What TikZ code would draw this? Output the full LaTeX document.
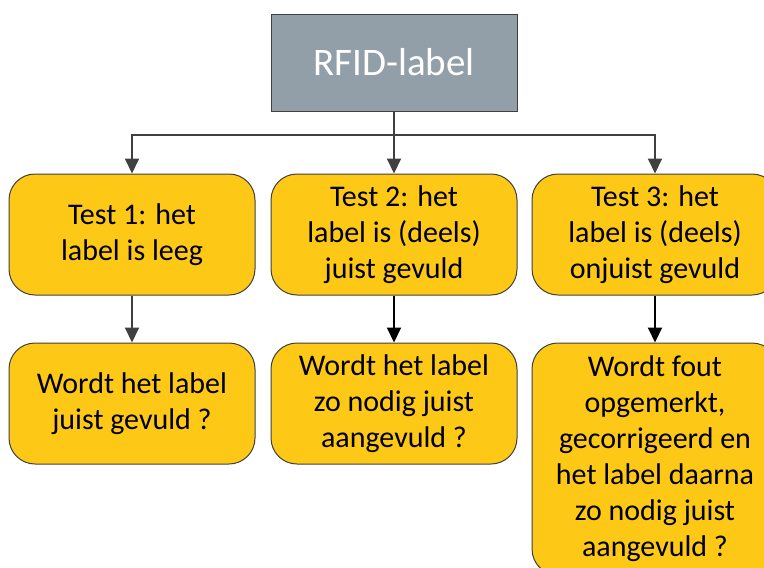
\documentclass[tikz,border=0pt]{standalone}
\usepackage{fontspec}
\setmainfont{Carlito}
\usepackage{tikz}
\usetikzlibrary{
    arrows.meta,
    positioning,
    calc
}
\definecolor{rfGray}{HTML}{939FA8}
\definecolor{rfGold}{HTML}{FDC916}
\definecolor{rfLine}{HTML}{404040}
\tikzset{
    rfTop/.style={
        draw=rfLine,
        fill=rfGray,
        text=white,
        minimum width=246pt,
        minimum height=97pt,
        line width=1pt,
        font=\fontsize{39}{47}\selectfont
    },
    rfTest/.style={
        draw=rfLine,
        fill=rfGold,
        rounded corners=26pt,
        minimum width=246pt,
        minimum height=121pt,
        align=center,
        line width=1pt,
        inner sep=2pt,
        font=\fontsize{30}{36}\selectfont
    },
    rfArrow/.style={-{Triangle[length=15pt,width=14pt]},line width=2pt,draw=rfLine},
    rfBlack/.style={-{Triangle[length=15pt,width=14pt]},line width=2pt,draw=black}
}
\begin{document}
\begin{tikzpicture}[x=1pt,y=1pt]
        \clip (0,0) rectangle (764,-568);
        % top
        \node[rfTop] (rfid) at (394,-62.5) {RFID-label};

        % tests
        \node[rfTest,below=62pt of rfid] (test2) {Test 2: het\\label is (deels)\\juist gevuld};
        \node[rfTest,left=15pt of test2] (test1) {Test 1: het\\label is leeg};
        \node[rfTest,right=14pt of test2] (test3) {Test 3: het\\label is (deels)\\onjuist gevuld};

        % checks
        \node[rfTest,below=47pt of test1] (check1) {Wordt het label\\juist gevuld ?};
        \node[rfTest,below=47pt of test2] (check2) {Wordt het label\\zo nodig juist\\aangevuld ?};
        \node[rfTest,below=47pt of test3,minimum height=232pt] (check3)
            {Wordt fout\\opgemerkt,\\gecorrigeerd en\\het label daarna\\zo nodig juist\\aangevuld ?};

        % arrows
        \coordinate (split) at ($(rfid.south)+(0,-23pt)$);
        \draw[rfArrow] (rfid) -- (test2);
        \draw[rfArrow] (split) -| (test1);
        \draw[rfArrow] (split) -| (test3);

        \draw[rfArrow] (test1) -- (check1);
        \draw[rfBlack] (test2) -- (check2);
        \draw[rfBlack] (test3) -- (check3);
    \end{tikzpicture}
\end{document}
